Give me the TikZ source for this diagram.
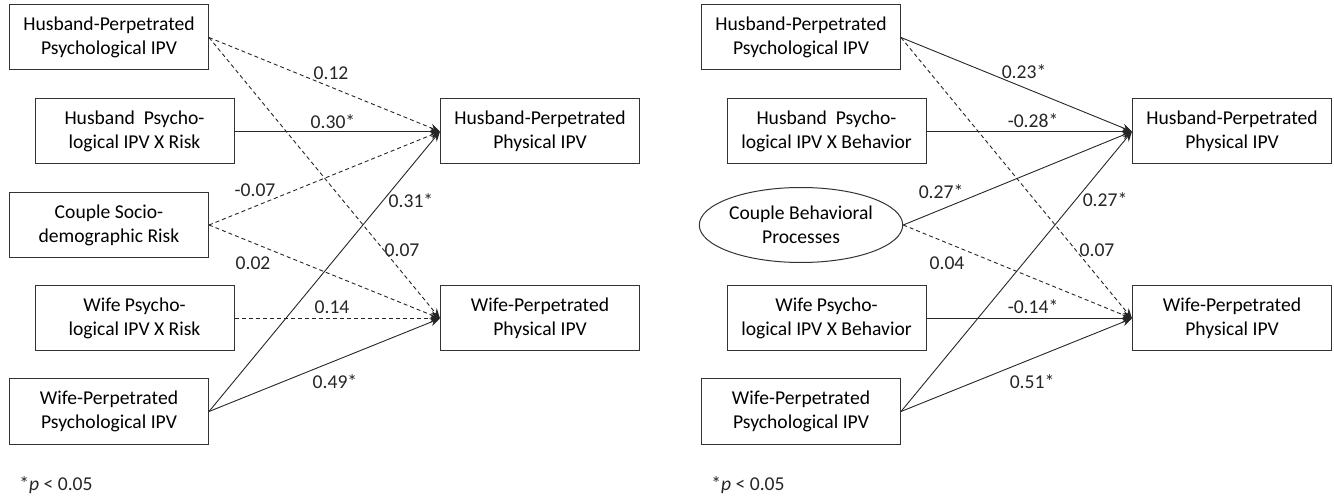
\documentclass[tikz,border=0pt]{standalone}
\usepackage{fontspec}
\setmainfont{Carlito}
\usetikzlibrary{arrows.meta,shapes.geometric}

\tikzset{
  varbox/.style={draw=black!80, line width=0.5pt, minimum width=99.5pt,
    minimum height=32.5pt, align=center, inner sep=0pt,
    font=\fontsize{9.8}{12}\selectfont},
  latent/.style={varbox, ellipse, minimum width=100pt, minimum height=37.5pt},
  effect/.style={line width=0.45pt, black!85, -{Stealth[length=5pt,width=4pt]}},
  nseffect/.style={effect, dash pattern=on 2pt off 1.5pt},
  coef/.style={inner sep=0pt, text=black!85, font=\fontsize{9.8}{12}\selectfont},
}

\begin{document}
\begin{tikzpicture}[x=0.5pt,y=-0.5pt]

  \useasboundingbox (0,0) rectangle (1334,497);

  \def\dx{692}   % shift of the right model

  % left model: predictors
  \node[varbox] (lhpsy) at (109,37.5) {Husband-Perpetrated\\Psychological IPV};
  \node[varbox] (lhint) at (134.5,131.5) {Husband\ \ Psycho-\\logical IPV X Risk};
  \node[varbox] (lrisk) at (109,225) {Couple Socio-\\demographic Risk};
  \node[varbox] (lwint) at (134.5,318.5) {Wife Psycho-\\logical IPV X Risk};
  \node[varbox] (lwpsy) at (109,411.5) {Wife-Perpetrated\\Psychological IPV};

  % left model: outcomes
  \node[varbox] (lhphy) at (540,131.5) {Husband-Perpetrated\\Physical IPV};
  \node[varbox] (lwphy) at (540,318.5) {Wife-Perpetrated\\Physical IPV};

  % left model: paths
  \draw[nseffect] (lhpsy.east) -- (lhphy.west);
  \draw[nseffect] (lhpsy.east) -- (lwphy.west);
  \draw[effect]   (lhint.east) -- (lhphy.west);
  \draw[nseffect] (lrisk.east) -- (lhphy.west);
  \draw[nseffect] (lrisk.east) -- (lwphy.west);
  \draw[nseffect] (lwint.east) -- (lwphy.west);
  \draw[effect]   (lwpsy.east) -- (lhphy.west);
  \draw[effect]   (lwpsy.east) -- (lwphy.west);

  % left model: coefficients
  \node[coef] (lc1) at (331,73) {0.12};
  \node[coef] (lc2) at (333,122) {0.30*};
  \node[coef] (lc3) at (255,190) {-0.07};
  \node[coef] (lc4) at (411,201) {0.31*};
  \node[coef] (lc5) at (402,250) {0.07};
  \node[coef] (lc6) at (253,263) {0.02};
  \node[coef] (lc7) at (332,307) {0.14};
  \node[coef] (lc8) at (335,382) {0.49*};
  \node[coef, anchor=west] (lnote) at (19,485) {*\textit{p} < 0.05};

  % right model: predictors
  \node[varbox] (rhpsy) at ({109+\dx},37.5) {Husband-Perpetrated\\Psychological IPV};
  \node[varbox] (rhint) at ({134.5+\dx},131.5) {Husband\ \ Psycho-\\logical IPV X Behavior};
  \node[latent] (rproc) at ({109+\dx},225) {Couple Behavioral\\Processes};
  \node[varbox] (rwint) at ({134.5+\dx},318.5) {Wife Psycho-\\logical IPV X Behavior};
  \node[varbox] (rwpsy) at ({109+\dx},411.5) {Wife-Perpetrated\\Psychological IPV};

  % right model: outcomes
  \node[varbox] (rhphy) at ({540+\dx},131.5) {Husband-Perpetrated\\Physical IPV};
  \node[varbox] (rwphy) at ({540+\dx},318.5) {Wife-Perpetrated\\Physical IPV};

  % right model: paths
  \draw[effect]   (rhpsy.east) -- (rhphy.west);
  \draw[nseffect] (rhpsy.east) -- (rwphy.west);
  \draw[effect]   (rhint.east) -- (rhphy.west);
  \draw[effect]   (rproc.east) -- (rhphy.west);
  \draw[nseffect] (rproc.east) -- (rwphy.west);
  \draw[effect]   (rwint.east) -- (rwphy.west);
  \draw[effect]   (rwpsy.east) -- (rhphy.west);
  \draw[effect]   (rwpsy.east) -- (rwphy.west);

  % right model: coefficients
  \node[coef] (rc1) at ({332+\dx},72) {0.23*};
  \node[coef] (rc2) at ({341+\dx},121) {-0.28*};
  \node[coef] (rc3) at ({249+\dx},192) {0.27*};
  \node[coef] (rc4) at ({413+\dx},200) {0.27*};
  \node[coef] (rc5) at ({405+\dx},250) {0.07};
  \node[coef] (rc6) at ({255+\dx},263) {0.04};
  \node[coef] (rc7) at ({341+\dx},307) {-0.14*};
  \node[coef] (rc8) at ({340+\dx},382) {0.51*};
  \node[coef, anchor=west] (rnote) at ({19+\dx},485) {*\textit{p} < 0.05};

\end{tikzpicture}
\end{document}
